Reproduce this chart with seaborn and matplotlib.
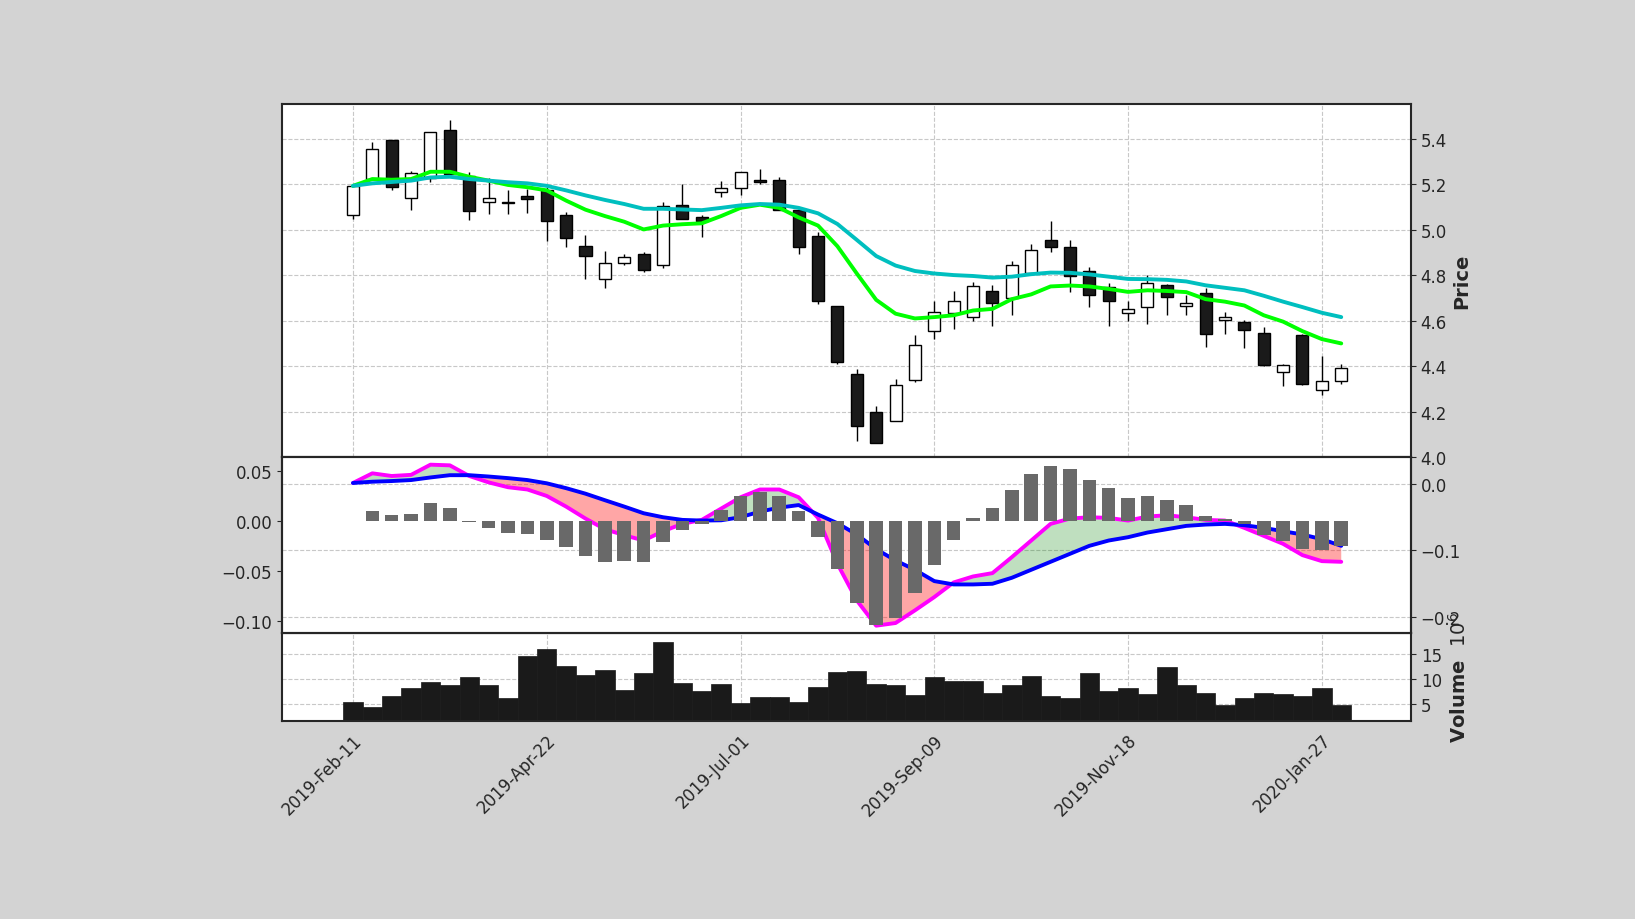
import numpy as np
import pandas as pd
import matplotlib
matplotlib.use("Agg")
import matplotlib.pyplot as plt
import seaborn as sns

# weekly candles, 2019-Feb-11 .. 2020-Feb-03
dates = pd.date_range("2019-02-11", periods=52, freq="7D")

opens = [5.067, 5.224, 5.397, 5.139, 5.228, 5.439, 5.236, 5.121, 5.12, 5.149,
         5.177, 5.064, 4.928, 4.784, 4.855, 4.895, 4.847, 5.11, 5.056, 5.165,
         5.186, 5.221, 5.221, 5.087, 4.971, 4.663, 4.365, 4.197, 4.16, 4.34,
         4.554, 4.634, 4.617, 4.733, 4.702, 4.808, 4.957, 4.923, 4.818, 4.747,
         4.636, 4.661, 4.758, 4.664, 4.72, 4.601, 4.595, 4.544, 4.374, 4.536,
         4.293, 4.334]
highs = [5.194, 5.389, 5.397, 5.259, 5.431, 5.482, 5.256, 5.228, 5.177, 5.181,
         5.19, 5.078, 4.977, 4.909, 4.893, 4.904, 5.121, 5.203, 5.066, 5.217,
         5.255, 5.27, 5.231, 5.1, 4.991, 4.663, 4.388, 4.225, 4.342, 4.535,
         4.688, 4.733, 4.771, 4.757, 4.864, 4.939, 5.04, 4.955, 4.835, 4.768,
         4.688, 4.801, 4.76, 4.712, 4.744, 4.639, 4.603, 4.571, 4.41, 4.54,
         4.444, 4.409]
lows = [5.05, 5.22, 5.177, 5.086, 5.21, 5.24, 5.043, 5.069, 5.069, 5.076,
        4.953, 4.923, 4.784, 4.746, 4.847, 4.815, 4.83, 5.049, 4.97, 5.146,
        5.152, 5.2, 5.087, 4.892, 4.674, 4.41, 4.07, 4.06, 4.16, 4.33,
        4.52, 4.564, 4.599, 4.578, 4.623, 4.8, 4.903, 4.728, 4.662, 4.578,
        4.599, 4.586, 4.627, 4.625, 4.484, 4.543, 4.48, 4.4, 4.311, 4.318,
        4.272, 4.32]
closes = [5.194, 5.358, 5.188, 5.249, 5.431, 5.245, 5.083, 5.139, 5.12, 5.138,
          5.04, 4.966, 4.884, 4.856, 4.881, 4.825, 5.104, 5.049, 5.038, 5.186,
          5.255, 5.211, 5.087, 4.926, 4.685, 4.419, 4.137, 4.06, 4.318, 4.494,
          4.639, 4.685, 4.754, 4.677, 4.847, 4.911, 4.926, 4.796, 4.715, 4.685,
          4.653, 4.766, 4.706, 4.678, 4.543, 4.615, 4.558, 4.406, 4.407, 4.321,
          4.334, 4.393]

ma_fast = [5.194, 5.224, 5.221, 5.224, 5.256, 5.256, 5.234, 5.217, 5.198, 5.188,
           5.174, 5.129, 5.089, 5.061, 5.036, 5.002, 5.019, 5.025, 5.029, 5.061,
           5.097, 5.111, 5.097, 5.055, 5.019, 4.928, 4.808, 4.692, 4.631, 4.61,
           4.616, 4.624, 4.645, 4.652, 4.695, 4.716, 4.751, 4.755, 4.751, 4.74,
           4.727, 4.734, 4.731, 4.726, 4.695, 4.684, 4.667, 4.624, 4.596, 4.554,
           4.519, 4.5]
ma_slow = [5.194, 5.205, 5.211, 5.217, 5.231, 5.234, 5.224, 5.217, 5.21, 5.205,
           5.194, 5.174, 5.152, 5.132, 5.114, 5.093, 5.093, 5.09, 5.087, 5.097,
           5.108, 5.114, 5.111, 5.097, 5.073, 5.026, 4.956, 4.885, 4.843, 4.819,
           4.808, 4.801, 4.797, 4.79, 4.794, 4.805, 4.812, 4.811, 4.804, 4.794,
           4.784, 4.783, 4.78, 4.773, 4.756, 4.745, 4.734, 4.71, 4.684, 4.66,
           4.635, 4.616]

macd = [0.0015, 0.016, 0.012, 0.0137, 0.029, 0.028, 0.012, 0.0024, -0.0049, -0.0083,
        -0.018, -0.034, -0.052, -0.068, -0.077, -0.085, -0.071, -0.060, -0.054, -0.037,
        -0.020, -0.0083, -0.0083, -0.020, -0.051, -0.12, -0.175, -0.213, -0.209, -0.19,
        -0.17, -0.148, -0.139, -0.134, -0.110, -0.085, -0.060, -0.052, -0.050, -0.051,
        -0.055, -0.049, -0.047, -0.050, -0.054, -0.055, -0.066, -0.078, -0.090, -0.107,
        -0.116, -0.117]
signal = [0.0015, 0.0034, 0.0044, 0.0059, 0.0098, 0.0132, 0.0132, 0.0112, 0.0088, 0.0059,
          0.001, -0.0063, -0.0146, -0.0244, -0.034, -0.044, -0.050, -0.054, -0.055, -0.0546,
          -0.050, -0.0415, -0.0356, -0.0317, -0.046, -0.059, -0.076, -0.098, -0.115, -0.129,
          -0.146, -0.151, -0.151, -0.15, -0.141, -0.129, -0.117, -0.105, -0.093, -0.085,
          -0.080, -0.073, -0.068, -0.063, -0.061, -0.060, -0.062, -0.066, -0.071, -0.076,
          -0.083, -0.093]
hist = [0.0, 0.0102, 0.0058, 0.0067, 0.0182, 0.0125, -0.001, -0.0073, -0.0121, -0.0131,
        -0.0188, -0.0265, -0.0351, -0.0409, -0.0399, -0.0409, -0.0208, -0.0089, -0.0026, 0.0112,
        0.0249, 0.0294, 0.0249, 0.0096, -0.016, -0.048, -0.082, -0.104, -0.097, -0.0725,
        -0.044, -0.019, 0.0026, 0.0134, 0.0313, 0.047, 0.0553, 0.0518, 0.0412, 0.0326,
        0.023, 0.0249, 0.0211, 0.0163, 0.0048, 0.0016, -0.0026, -0.0144, -0.0198, -0.0281,
        -0.0294, -0.0249]

volume = [5.4, 4.4, 6.6, 8.2, 9.4, 8.8, 10.4, 8.8, 6.2, 14.6,
          16.0, 12.6, 10.8, 11.8, 7.8, 11.2, 17.4, 9.2, 7.6, 9.0,
          5.2, 6.4, 6.4, 5.4, 8.4, 11.4, 11.6, 9.0, 8.8, 6.8,
          10.4, 9.6, 9.6, 7.2, 8.8, 10.6, 6.6, 6.2, 11.2, 7.6,
          8.2, 7.0, 12.4, 8.8, 7.2, 4.8, 6.2, 7.2, 7.0, 6.6,
          8.2, 4.8]  # millions

sns.set_style("white")
plt.rcParams["font.family"] = ["DejaVu Sans"]

df = pd.DataFrame({"x": np.arange(len(dates)), "open": opens, "high": highs,
                   "low": lows, "close": closes, "fast": ma_fast, "slow": ma_slow,
                   "macd": macd, "signal": signal, "hist": hist, "volume": volume})
x = df["x"].values

fig = plt.figure(figsize=(16.35, 9.2), dpi=100, facecolor="#d3d3d3")
gs = fig.add_gridspec(3, 1, height_ratios=[353, 176, 88], hspace=0,
                      left=0.1725, right=0.863, top=0.886, bottom=0.2152)
ax1 = fig.add_subplot(gs[0])
ax2 = fig.add_subplot(gs[1], sharex=ax1)
ax3 = fig.add_subplot(gs[2], sharex=ax1)

grid_kw = dict(color="#c8c8c8", linestyle="--", linewidth=0.8)

# candles
up = df["close"] >= df["open"]
ax1.vlines(x, df["low"], df["high"], color="black", linewidth=1, zorder=2)
body_h = (df["close"] - df["open"]).abs().clip(lower=0.004)
body_b = df[["open", "close"]].min(axis=1)
ax1.bar(x, body_h, bottom=body_b, width=0.62,
        color=np.where(up, "white", "#1a1a1a"), edgecolor="black", linewidth=1, zorder=3)
sns.lineplot(data=df, x="x", y="fast", ax=ax1, color="#00ff00", linewidth=2.8, zorder=4)
sns.lineplot(data=df, x="x", y="slow", ax=ax1, color="#00bfbf", linewidth=2.8, zorder=4)
ax1.set_ylim(4.0, 5.555)
ax1.yaxis.tick_right()
ax1.yaxis.set_label_position("right")
ax1.set_ylabel("Price", fontsize=14, fontweight="bold")
ax1.set_xlabel("")
ax1.grid(True, **grid_kw)
ax1.tick_params(labelbottom=False, labelsize=12)

# MACD panel: histogram on left axis (drawn on top), lines on right axis
ax2.bar(x, df["hist"], width=0.7, color="dimgray", linewidth=0, zorder=2)
ax2.set_ylim(-0.112, 0.064)
ax2.set_yticks([0.05, 0.0, -0.05, -0.10])
ax2.tick_params(labelbottom=False, labelsize=12)
ax2r = ax2.twinx()
ax2r.fill_between(x, df["macd"], df["signal"], where=df["macd"] >= df["signal"],
                  interpolate=True, color="g", alpha=0.25, linewidth=0)
ax2r.fill_between(x, df["macd"], df["signal"], where=df["macd"] < df["signal"],
                  interpolate=True, color="r", alpha=0.35, linewidth=0)
sns.lineplot(data=df, x="x", y="macd", ax=ax2r, color="magenta", linewidth=2.8)
sns.lineplot(data=df, x="x", y="signal", ax=ax2r, color="blue", linewidth=2.8)
ax2r.set_ylim(-0.224, 0.0406)
ax2r.set_yticks([0.0, -0.1, -0.2])
ax2r.set_ylabel("")
ax2r.grid(True, **grid_kw)
ax2r.tick_params(labelsize=12)
ax2r.set_zorder(1)
ax2.set_zorder(2)
ax2.patch.set_visible(False)
ax2r.patch.set_visible(True)
ax2r.patch.set_facecolor("white")

# volume
ax3.bar(x, df["volume"], width=1.0, color="#1a1a1a", edgecolor="#1a1a1a", linewidth=0.5, zorder=2)
ax3.set_ylim(1.6, 19.2)
ax3.set_yticks([5, 10, 15])
ax3.yaxis.tick_right()
ax3.yaxis.set_label_position("right")
ax3.set_ylabel("Volume  $10^6$", fontsize=14, fontweight="bold")
ax3.grid(True, **grid_kw)
ax3.tick_params(labelsize=12)

ticks = list(range(0, len(dates), 10))
ax3.set_xticks(ticks)
ax3.set_xticklabels([dates[i].strftime("%Y-%b-%d") for i in ticks], rotation=45,
                    ha="right", rotation_mode="anchor", fontsize=12)
ax3.set_xlim(-3.66, 54.6)

for a in (ax1, ax2, ax2r, ax3):
    for s in a.spines.values():
        s.set_linewidth(1.5)

fig.savefig("out.png", dpi=100, facecolor=fig.get_facecolor())
